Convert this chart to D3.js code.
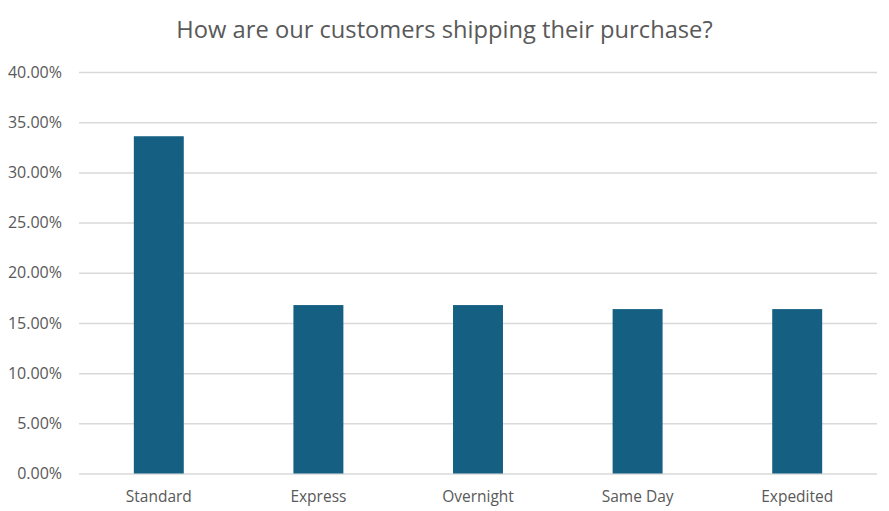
<!DOCTYPE html>
<html><head><meta charset="utf-8">
<script src="https://cdn.jsdelivr.net/npm/d3@7"></script>
<style>body{margin:0;background:#fff;} svg{display:block;}</style>
</head><body>
<svg id="chart" width="889" height="511"></svg>
<script>
const categories = ["Standard", "Express", "Overnight", "Same Day", "Expedited"];
const shares = [0.336, 0.1678, 0.1678, 0.1638, 0.1638];
const yTicks = [0, 0.05, 0.10, 0.15, 0.20, 0.25, 0.30, 0.35, 0.40];
const title = "How are our customers shipping their purchase?";

const svg = d3.select("#chart");
const W = 889, H = 511;
const m = {left: 79, right: 12, top: 72, bottom: 37.5};
const font = "'Open Sans', sans-serif";

svg.append("rect").attr("width", W).attr("height", H).attr("fill", "#fff");

const x = d3.scaleBand().domain(categories).range([m.left, W - m.right]).paddingInner(0.687).paddingOuter(0.3435);
const y = d3.scaleLinear().domain([0, 0.4]).range([H - m.bottom, m.top]);

// gridlines
const yAxis = d3.axisLeft(y).tickValues(yTicks).tickFormat(d3.format(".2%")).tickSize(-(W - m.left - m.right)).tickPadding(17);
const gy = svg.append("g").attr("transform", `translate(${m.left},0)`).call(yAxis);
gy.select(".domain").remove();
gy.selectAll(".tick line").attr("stroke", "#d9d9d9").attr("stroke-width", 1.5);
gy.selectAll(".tick text").attr("fill", "#595959").style("font-family", font).style("font-size", "16px");

// bars
svg.append("g").selectAll("rect").data(categories).join("rect")
  .attr("x", d => x(d))
  .attr("width", x.bandwidth())
  .attr("y", (d, i) => y(shares[i]))
  .attr("height", (d, i) => y(0) - y(shares[i]))
  .attr("fill", "#156082");

// x axis
const xAxis = d3.axisBottom(x).tickSize(0).tickPadding(17);
const gx = svg.append("g").attr("transform", `translate(0,${y(0)})`).call(xAxis);
gx.select(".domain").remove();
gx.selectAll(".tick text").attr("fill", "#595959").style("font-family", font).style("font-size", "15.5px");

svg.append("text").attr("x", W / 2).attr("y", 37.5).attr("text-anchor", "middle")
  .attr("fill", "#595959").style("font-family", font).style("font-size", "23.7px").text(title);
</script>
</body></html>
